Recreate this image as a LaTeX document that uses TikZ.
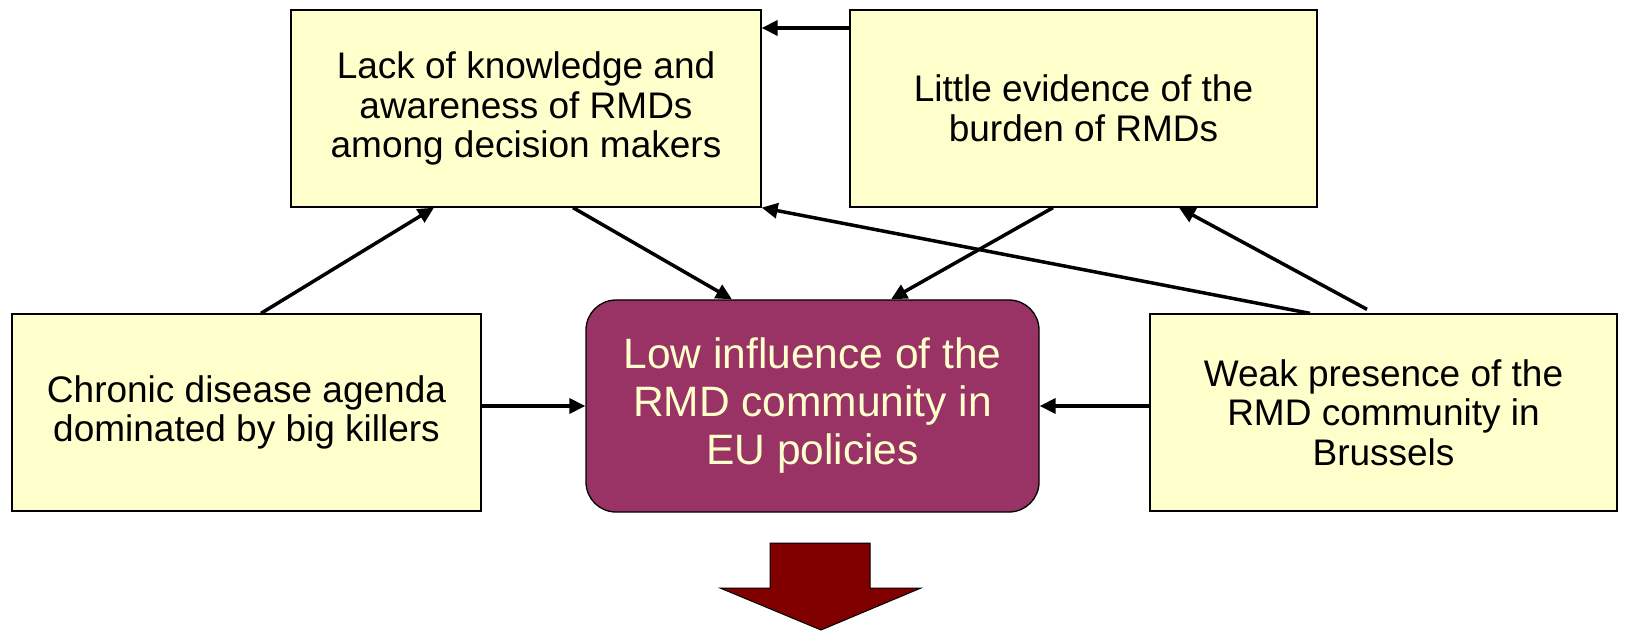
\documentclass[tikz,border=0pt]{standalone}
\usepackage{fontspec}
\setmainfont{Liberation Sans}
\usetikzlibrary{arrows.meta}
\definecolor{boxfill}{HTML}{FFFFCC}
\definecolor{centerfill}{HTML}{993366}
\definecolor{centertext}{HTML}{FFFFCC}
\definecolor{bigarrow}{HTML}{800000}
\tikzset{
  causebox/.style={draw=black, line width=1.3pt, fill=boxfill, minimum width=#1, minimum height=197pt, inner sep=0pt, align=center, font=\fontsize{37}{39.5}\selectfont},
  corebox/.style={draw=black, line width=1.3pt, fill=centerfill, rounded corners=30pt, minimum width=453pt, minimum height=212pt, inner sep=0pt, align=center, text=centertext, font=\fontsize{42.5}{48}\selectfont},
  arr/.style={line width=3.5pt, -{Triangle[length=16pt,width=15pt]}}
}
\begin{document}
\begin{tikzpicture}[x=1pt,y=-1pt]
\useasboundingbox (0,0) rectangle (1626,631);
\node[causebox=470pt] (A) at (526,108.5) {Lack of knowledge and\\awareness of RMDs\\among decision makers};
\node[causebox=467pt] (B) at (1083.5,108.5) {Little evidence of the\\burden of RMDs};
\node[causebox=469pt] (C) at (246.5,412.5) {Chronic disease agenda\\dominated by big killers};
\node[corebox] (D) at (812.5,406) {Low influence of the\\RMD community in\\EU policies};
\node[causebox=467pt] (E) at (1383.5,412.5) {Weak presence of the\\RMD community in\\Brussels};
% connectors
\draw[arr] ([yshift=80.5pt]B.west) -- ([yshift=80.5pt]A.east);
\draw[arr] ([xshift=14.5pt]C.north) -- ([xshift=-92pt]A.south);
\draw[arr] ([xshift=47pt]A.south) -- ([xshift=-80.5pt]D.north);
\draw[arr] ([xshift=-30.5pt]B.south) -- ([xshift=78.5pt]D.north);
\draw[arr] ([xshift=-73.5pt]E.north) -- (A.south east);
\draw[arr] ([xshift=-16.5pt,yshift=4pt]E.north) -- ([xshift=95.5pt]B.south);
\draw[arr] (C.east |- D.west) -- (D.west);
\draw[arr] (E.west |- D.east) -- (D.east);
% big downward arrow
\draw[draw=black, line width=1pt, fill=bigarrow] (770,543) -- (870,543) -- (870,588) -- (921,588) -- (821,630) -- (720,588) -- (770,588) -- cycle;
\end{tikzpicture}
\end{document}
